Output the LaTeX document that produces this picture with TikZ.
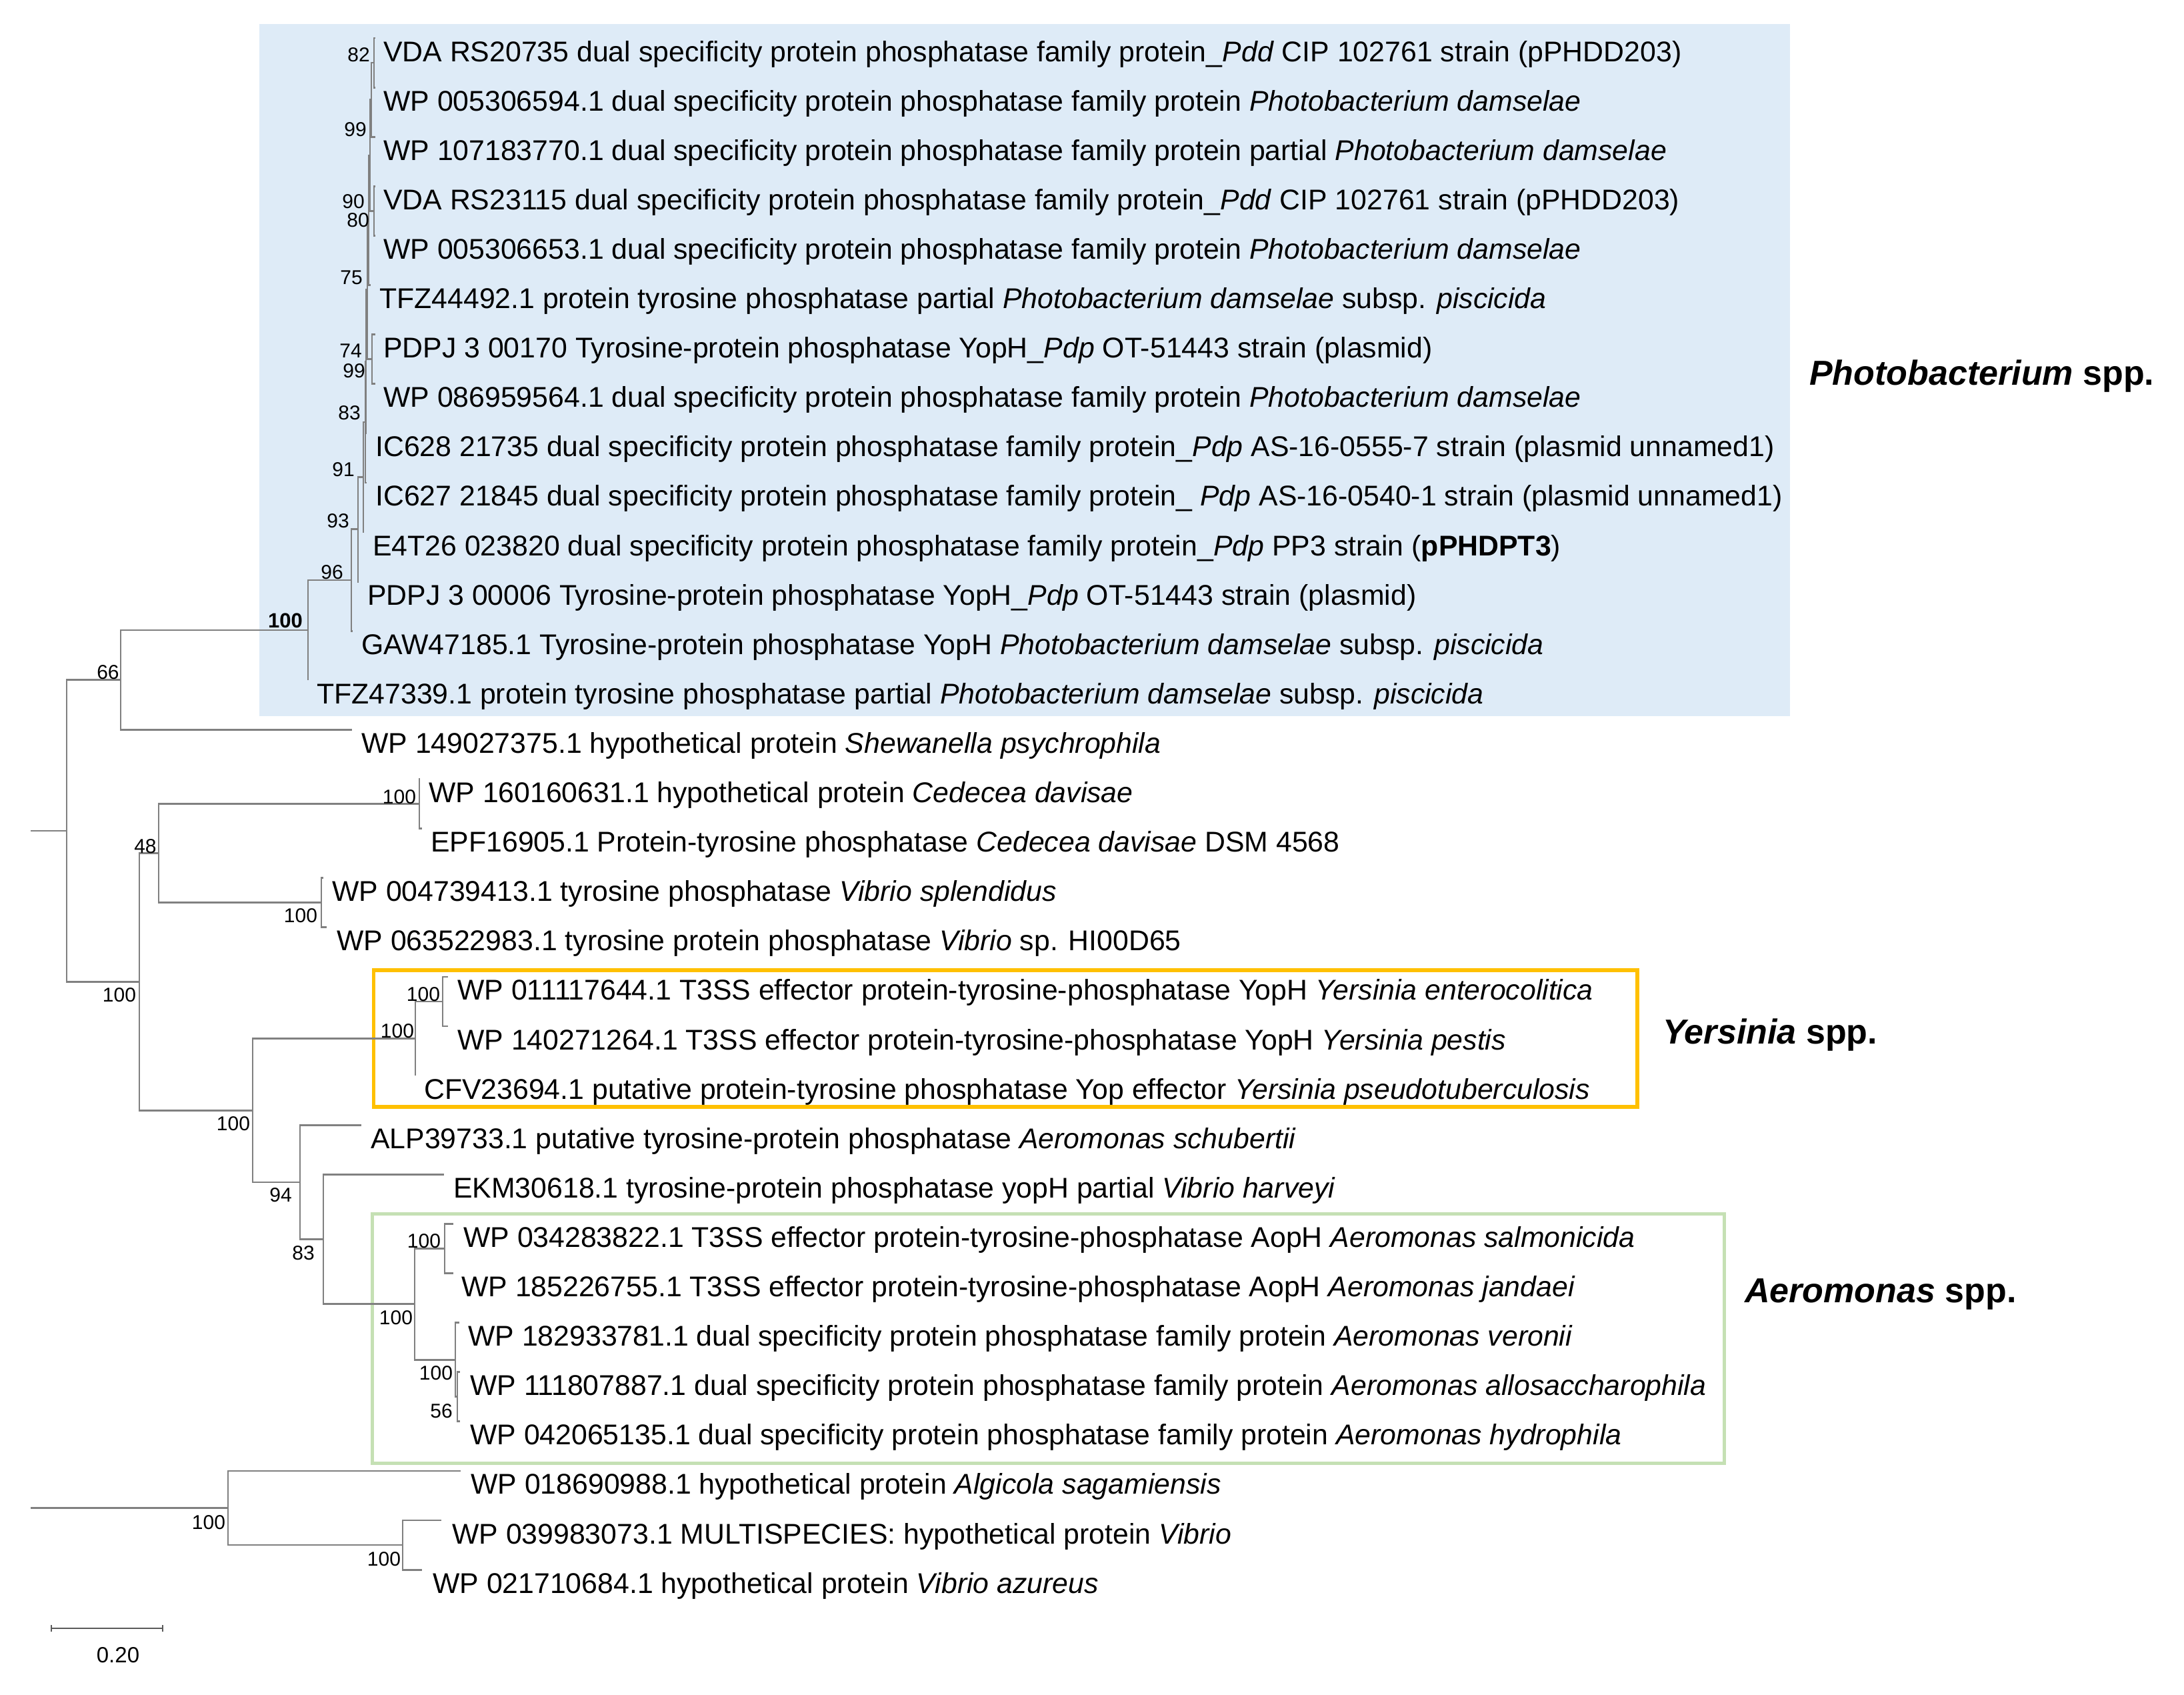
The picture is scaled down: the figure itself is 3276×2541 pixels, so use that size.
\documentclass[tikz,border=0pt]{standalone}
\usepackage{fontspec}
\setmainfont{Liberation Sans}
\definecolor{branchgray}{RGB}{128,128,128}
\definecolor{boxblue}{RGB}{222,235,247}
\definecolor{yerorange}{RGB}{255,192,0}
\definecolor{aergreen}{RGB}{197,224,180}
\begin{document}
\begin{tikzpicture}[x=1pt,y=-1pt,
  br/.style={draw=branchgray, line width=2.8pt},
  leaf/.style={anchor=base west, inner sep=0pt, font=\fontsize{42.8}{50}\selectfont},
  bs/.style={inner sep=0pt, font=\fontsize{30}{36}\selectfont},
  grp/.style={anchor=base west, inner sep=0pt, font=\fontsize{52}{60}\selectfont\bfseries},
  sbar/.style={draw=branchgray!70!black, line width=2.6pt}]
\useasboundingbox (0,0) rectangle (3276,2541);
% clade boxes
\fill[boxblue] (389,36) rectangle (2685,1074);
\draw[yerorange, line width=5.5pt] (560.5,1455) rectangle (2456,1660);
\draw[aergreen, line width=5pt] (558.5,1820) rectangle (2586,2194);
% tips
\coordinate (t1) at (563,57);
\coordinate (t2) at (563,131.1);
\coordinate (t3) at (563,205.2);
\coordinate (t4) at (563,279.3);
\coordinate (t5) at (563,353.4);
\coordinate (t6) at (556,427.5);
\coordinate (t7) at (563,501.6);
\coordinate (t8) at (563,575.7);
\coordinate (t9) at (550,649.8);
\coordinate (t10) at (550,723.9);
\coordinate (t11) at (546,798);
\coordinate (t12) at (538,872.1);
\coordinate (t13) at (529,946.2);
\coordinate (t14) at (462,1020.3);
\coordinate (t15) at (528,1094.4);
\coordinate (t16) at (630,1168.5);
\coordinate (t17) at (633,1242.6);
\coordinate (t18) at (485,1316.7);
\coordinate (t19) at (490,1390.8);
\coordinate (t20) at (672,1464.9);
\coordinate (t21) at (672,1539);
\coordinate (t22) at (623,1613.1);
\coordinate (t23) at (542,1687.2);
\coordinate (t24) at (666,1761.3);
\coordinate (t25) at (680,1835.4);
\coordinate (t26) at (680,1909.5);
\coordinate (t27) at (689,1983.6);
\coordinate (t28) at (690,2057.7);
\coordinate (t29) at (690,2131.8);
\coordinate (t30) at (691,2205.9);
\coordinate (t31) at (662,2280);
\coordinate (t32) at (633,2354.1);
% internal nodes
\coordinate (n82) at (561,94.05);
\coordinate (n99a) at (557,149.6);
\coordinate (n90) at (561,316.35);
\coordinate (n80) at (555,233);
\coordinate (n75) at (553,330.2);
\coordinate (n74) at (558,538.65);
\coordinate (n99b) at (551,434.4);
\coordinate (nB) at (549,542.1);
\coordinate (n83) at (548,633);
\coordinate (n91) at (545,715.5);
\coordinate (n93) at (537,793.8);
\coordinate (n96) at (527,870);
\coordinate (n100) at (462,945);
\coordinate (n66) at (181,1019.7);
\coordinate (nCed) at (629,1205.55);
\coordinate (nVib) at (482,1353.75);
\coordinate (n48) at (238,1279.65);
\coordinate (nYin) at (664,1501.95);
\coordinate (nYer) at (623,1557.5);
\coordinate (nA1) at (667,1872.45);
\coordinate (n56) at (686,2094.75);
\coordinate (nA2) at (683,2039.2);
\coordinate (nAer) at (622,1955.8);
\coordinate (n83a) at (485,1858.55);
\coordinate (n94) at (450,1772.9);
\coordinate (nBig2) at (379,1665.2);
\coordinate (nBig) at (209,1472.4);
\coordinate (n0) at (100,1246.05);
\coordinate (r0) at (46,1246.05);
\coordinate (nVib2) at (604,2317.05);
\coordinate (nAlg) at (342,2261.5);
\coordinate (r1) at (46,2261.5);
% branches
\draw[br] (r0) -- (n0);
\draw[br] (r1) -- (nAlg);
\foreach \p/\c in {n0/n66,n0/nBig,n66/n100,n66/t15,n100/n96,n100/t14,n96/n93,n96/t13,
  n93/n91,n93/t12,n91/n83,n91/t11,n83/nB,n83/t10,nB/n99b,nB/t9,n99b/n75,n99b/n74,
  n74/t7,n74/t8,n75/n80,n75/t6,n80/n99a,n80/n90,n99a/n82,n99a/t3,n82/t1,n82/t2,
  n90/t4,n90/t5,nBig/n48,nBig/nBig2,n48/nCed,n48/nVib,nCed/t16,nCed/t17,nVib/t18,nVib/t19,
  nBig2/nYer,nBig2/n94,nYer/nYin,nYer/t22,nYin/t20,nYin/t21,n94/t23,n94/n83a,
  n83a/t24,n83a/nAer,nAer/nA1,nAer/nA2,nA1/t25,nA1/t26,nA2/t27,nA2/n56,n56/t28,n56/t29,
  nAlg/t30,nAlg/nVib2,nVib2/t31,nVib2/t32}
  \draw[br] (\p) |- (\c);
% bootstrap values
\node[bs] (b82) at (538,82) {82};
\node[bs] (b99a) at (533,194) {99};
\node[bs] (b90) at (530,302) {90};
\node[bs] (b80) at (537,330) {80};
\node[bs] (b75) at (527,416) {75};
\node[bs] (b74) at (526,526) {74};
\node[bs] (b99b) at (531,556) {99};
\node[bs] (b83) at (524,619) {83};
\node[bs] (b91) at (515,704) {91};
\node[bs] (b93) at (507,781) {93};
\node[bs] (b96) at (498,858) {96};
\node[bs,font=\fontsize{31}{36}\selectfont\bfseries] (b100) at (428,931) {100};
\node[bs] (b66) at (162,1008) {66};
\node[bs] (b48) at (218,1269) {48};
\node[bs] (bBig) at (179,1492) {100};
\node[bs] (bCed) at (599,1195) {100};
\node[bs] (bVib) at (451,1373) {100};
\node[bs] (bBig2) at (350,1685) {100};
\node[bs] (bYer) at (596,1546) {100};
\node[bs] (bYin) at (635,1491) {100};
\node[bs] (b94) at (421,1792) {94};
\node[bs] (b83a) at (455,1879) {83};
\node[bs] (bAer) at (594,1976) {100};
\node[bs] (bA1) at (636,1861) {100};
\node[bs] (bA2) at (654,2059) {100};
\node[bs] (b56) at (662,2116) {56};
\node[bs] (bAlg) at (313,2283) {100};
\node[bs] (bVib2) at (576,2338) {100};
% leaf labels
\node[leaf] (l1) at (575,92) {VDA RS20735 dual specificity protein phosphatase family protein\_\textit{Pdd} CIP 102761 strain (pPHDD203)};
\node[leaf] (l2) at (575,166.1) {WP 005306594.1 dual specificity protein phosphatase family protein \textit{Photobacterium damselae}};
\node[leaf] (l3) at (575,240.2) {WP 107183770.1 dual specificity protein phosphatase family protein partial \textit{Photobacterium damselae}};
\node[leaf] (l4) at (575,314.3) {VDA RS23115 dual specificity protein phosphatase family protein\_\textit{Pdd} CIP 102761 strain (pPHDD203)};
\node[leaf] (l5) at (575,388.4) {WP 005306653.1 dual specificity protein phosphatase family protein \textit{Photobacterium damselae}};
\node[leaf] (l6) at (569,462.5) {TFZ44492.1 protein tyrosine phosphatase partial \textit{Photobacterium damselae} subsp. \textit{piscicida}};
\node[leaf] (l7) at (575,536.6) {PDPJ 3 00170 Tyrosine-protein phosphatase YopH\_\textit{Pdp} OT-51443 strain (plasmid)};
\node[leaf] (l8) at (575,610.7) {WP 086959564.1 dual specificity protein phosphatase family protein \textit{Photobacterium damselae}};
\node[leaf] (l9) at (563,684.8) {IC628 21735 dual specificity protein phosphatase family protein\_\textit{Pdp} AS-16-0555-7 strain (plasmid unnamed1)};
\node[leaf] (l10) at (563,758.9) {IC627 21845 dual specificity protein phosphatase family protein\_ \textit{Pdp} AS-16-0540-1 strain (plasmid unnamed1)};
\node[leaf] (l11) at (559,833) {E4T26 023820 dual specificity protein phosphatase family protein\_\textit{Pdp} PP3 strain (\textbf{pPHDPT3})};
\node[leaf] (l12) at (551,907.1) {PDPJ 3 00006 Tyrosine-protein phosphatase YopH\_\textit{Pdp} OT-51443 strain (plasmid)};
\node[leaf] (l13) at (542,981.2) {GAW47185.1 Tyrosine-protein phosphatase YopH \textit{Photobacterium damselae} subsp. \textit{piscicida}};
\node[leaf] (l14) at (475,1055.3) {TFZ47339.1 protein tyrosine phosphatase partial \textit{Photobacterium damselae} subsp. \textit{piscicida}};
\node[leaf] (l15) at (542,1129.4) {WP 149027375.1 hypothetical protein \textit{Shewanella psychrophila}};
\node[leaf] (l16) at (643,1203.5) {WP 160160631.1 hypothetical protein \textit{Cedecea davisae}};
\node[leaf] (l17) at (646,1277.6) {EPF16905.1 Protein-tyrosine phosphatase \textit{Cedecea davisae} DSM 4568};
\node[leaf] (l18) at (498,1351.7) {WP 004739413.1 tyrosine phosphatase \textit{Vibrio splendidus}};
\node[leaf] (l19) at (505,1425.8) {WP 063522983.1 tyrosine protein phosphatase \textit{Vibrio} sp. HI00D65};
\node[leaf] (l20) at (686,1499.9) {WP 011117644.1 T3SS effector protein-tyrosine-phosphatase YopH \textit{Yersinia enterocolitica}};
\node[leaf] (l21) at (686,1574) {WP 140271264.1 T3SS effector protein-tyrosine-phosphatase YopH \textit{Yersinia pestis}};
\node[leaf] (l22) at (636,1648.1) {CFV23694.1 putative protein-tyrosine phosphatase Yop effector \textit{Yersinia pseudotuberculosis}};
\node[leaf] (l23) at (556,1722.2) {ALP39733.1 putative tyrosine-protein phosphatase \textit{Aeromonas schubertii}};
\node[leaf] (l24) at (680,1796.3) {EKM30618.1 tyrosine-protein phosphatase yopH partial \textit{Vibrio harveyi}};
\node[leaf] (l25) at (695,1870.4) {WP 034283822.1 T3SS effector protein-tyrosine-phosphatase AopH \textit{Aeromonas salmonicida}};
\node[leaf] (l26) at (692,1944.5) {WP 185226755.1 T3SS effector protein-tyrosine-phosphatase AopH \textit{Aeromonas jandaei}};
\node[leaf] (l27) at (702,2018.6) {WP 182933781.1 dual specificity protein phosphatase family protein \textit{Aeromonas veronii}};
\node[leaf] (l28) at (705,2092.7) {WP 111807887.1 dual specificity protein phosphatase family protein \textit{Aeromonas allosaccharophila}};
\node[leaf] (l29) at (705,2166.8) {WP 042065135.1 dual specificity protein phosphatase family protein \textit{Aeromonas hydrophila}};
\node[leaf] (l30) at (706,2240.9) {WP 018690988.1 hypothetical protein \textit{Algicola sagamiensis}};
\node[leaf] (l31) at (678,2315) {WP 039983073.1 MULTISPECIES: hypothetical protein \textit{Vibrio}};
\node[leaf] (l32) at (649,2389.1) {WP 021710684.1 hypothetical protein \textit{Vibrio azureus}};
% group labels
\node[grp] (gP) at (2714,577) {\textit{Photobacterium} spp.};
\node[grp] (gY) at (2494,1565) {\textit{Yersinia} spp.};
\node[grp] (gA) at (2617,1953) {\textit{Aeromonas} spp.};
% scale bar
\coordinate (s0) at (77,2442);
\coordinate (s1) at (244,2442);
\draw[sbar] (s0) -- (s1);
\draw[sbar, line width=2pt] ([yshift=-5pt]s0) -- ([yshift=5pt]s0);
\draw[sbar, line width=2pt] ([yshift=-5pt]s1) -- ([yshift=5pt]s1);
\node[inner sep=0pt, font=\fontsize{33}{40}\selectfont] (sl) at (177,2482) {0.20};
\end{tikzpicture}
\end{document}
